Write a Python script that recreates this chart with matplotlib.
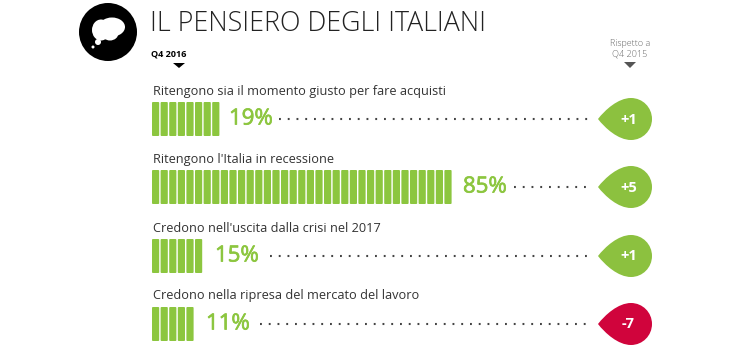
import matplotlib
matplotlib.use("Agg")
import matplotlib.pyplot as plt
import matplotlib.patheffects as pe
from matplotlib.patches import Circle, Ellipse, FancyBboxPatch, PathPatch, Polygon
from matplotlib.path import Path

plt.rcParams['font.family'] = ['Open Sans', 'DejaVu Sans']

labels = ["Ritengono sia il momento giusto per fare acquisti",
          "Ritengono l'Italia in recessione",
          "Credono nell'uscita dalla crisi nel 2017",
          "Credono nella ripresa del mercato del lavoro"]
percent = [19, 85, 15, 11]
segments = [8, 35, 6, 5]
delta = ["+1", "+5", "+1", "-7"]
delta_colors = ["#8cc13f", "#8cc13f", "#8cc13f", "#d0043c"]

green = "#8cc63f"
row_top = [102, 170, 239, 307]
pct_x = [229, 463, 215, 206]
dots_x = [279, 514, 270, 260]
dots_end = [592, 592, 592, 588]
pitch = 8.6


def drop(ax, cx, cy, r, tip, color):
    # circle with a pointed left side
    k = 0.5523 * r
    verts = [(tip, cy),
             (tip + 7, cy - 9), (cx - 13, cy - r), (cx, cy - r),
             (cx + k, cy - r), (cx + r, cy - k), (cx + r, cy),
             (cx + r, cy + k), (cx + k, cy + r), (cx, cy + r),
             (cx - 13, cy + r), (tip + 7, cy + 9), (tip, cy),
             (tip, cy)]
    codes = [Path.MOVETO] + [Path.CURVE4] * 12 + [Path.CLOSEPOLY]
    ax.add_patch(PathPatch(Path(verts, codes), fc=color, ec="none"))


fig = plt.figure(figsize=(7.3, 3.5), dpi=100)
ax = fig.add_axes([0, 0, 1, 1])
ax.set_xlim(0, 730)
ax.set_ylim(350, 0)
ax.axis("off")

# icon
ax.add_patch(Circle((108, 32), 29, fc="black", ec="none"))
ax.add_patch(Ellipse((101, 30), 18, 21, fc="white", ec="none"))
ax.add_patch(Ellipse((112, 27), 26, 19, fc="white", ec="none"))
ax.add_patch(Ellipse((110, 33), 17, 15, fc="white", ec="none"))
ax.add_patch(Circle((98, 42), 3, fc="white", ec="none"))
ax.add_patch(Circle((93, 47), 1.5, fc="white", ec="none"))

ax.text(150, 24, "IL PENSIERO DEGLI ITALIANI", fontsize=19.3, fontweight=300,
        color="#222222", va="center", ha="left")
ax.text(151, 54.5, "Q4 2016", fontsize=6.5, fontweight="bold", color="black",
        va="center", ha="left")
ax.add_patch(Polygon([(173, 63), (185, 63), (179, 68)], fc="black", ec="none"))
ax.text(630, 43.5, "Rispetto a", fontsize=6.5, fontweight=300, color="#666666",
        va="center", ha="center")
ax.text(630, 54.5, "Q4 2015", fontsize=6.5, fontweight=300, color="#666666",
        va="center", ha="center")
ax.add_patch(Polygon([(624, 62), (636, 62), (630, 68)], fc="#555555", ec="none"))

for i in range(len(labels)):
    top = row_top[i]
    mid = top + 17
    ax.text(153, top - 11, labels[i], fontsize=9.15, color="#333333",
            va="center", ha="left")
    for s in range(segments[i]):
        ax.add_patch(FancyBboxPatch((152 + s * pitch + 0.7, top + 0.7), 5.8, 32.6,
                                    boxstyle="round,pad=0.7,rounding_size=1",
                                    fc=green, ec="none"))
    t = ax.text(pct_x[i], mid, f"{percent[i]}%", fontsize=16, color=green,
                va="center", ha="left")
    t.set_path_effects([pe.withStroke(linewidth=0.5, foreground=green)])
    ax.plot([dots_x[i], dots_end[i]], [mid, mid], color="#444444", lw=1.5,
            linestyle=(0, (0.9, 3.3)))
    drop(ax, 631, mid, 21, 598, delta_colors[i])
    ax.text(628.5, mid + 0.5, delta[i], fontsize=10.5, fontweight="bold", color="white",
            va="center", ha="center")

fig.savefig("out.png", dpi=100, facecolor="white")
